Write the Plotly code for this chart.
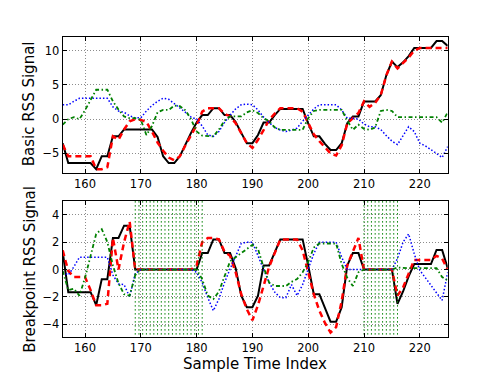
import plotly.graph_objects as go
from plotly.subplots import make_subplots

# sample index 156..225
t = list(range(156, 226))

basic_black = [-3.5, -6.4, -6.4, -6.4, -6.4, -6.4, -7.3, -5.4, -5.4, -2.5,
               -2.5, -1.5, -1.5, -1.5, -1.5, -1.5, -1.5, -2.6, -5.4, -6.4,
               -6.4, -5.4, -3.6, -2.0, -0.5, 0.6, 0.6, 1.6, 1.6, 0.6,
               0.6, -0.4, -2.0, -3.5, -3.5, -2.3, -0.5, -0.5, 0.6, 1.5,
               1.5, 1.5, 1.5, 1.5, -0.6, -2.5, -2.5, -3.6, -4.5, -4.5,
               -3.5, -0.6, 0.4, 0.4, 2.6, 2.6, 2.6, 3.5, 6.4, 8.4,
               7.6, 8.3, 9.2, 10.4, 10.4, 10.4, 10.4, 11.4, 11.4, 10.7]
basic_red = [-3.7, -5.4, -5.4, -5.4, -5.4, -5.4, -7.3, -7.3, -7.0, -2.5,
             -3.0, -1.5, -0.3, 0.0, -0.1, -0.4, -1.8, -3.4, -4.6, -5.6,
             -6.0, -5.4, -3.8, -2.3, -0.9, 1.1, 1.6, 1.6, 1.6, 0.8,
             0.4, -0.6, -2.0, -3.5, -4.2, -3.0, -1.6, -0.1, 0.8, 1.6,
             1.6, 1.6, 1.6, 1.1, -0.5, -2.2, -3.2, -4.1, -5.0, -5.3,
             -3.8, -0.6, 0.2, 0.9, 2.6, 1.8, 2.4, 3.5, 6.4, 8.4,
             7.4, 8.2, 9.0, 10.0, 10.4, 10.4, 10.4, 10.4, 10.4, 10.4]
basic_blue = [2.1, 2.1, 2.6, 3.05, 3.05, 3.05, 3.05, 3.05, 3.05, 1.8,
              1.2, 1.0, 0.5, 0.2, 0.2, 1.2, 2.0, 2.6, 3.05, 2.9,
              2.3, 1.6, 1.0, 0.3, 0.0, -1.0, -2.3, -2.5, -1.8, -0.5,
              0.6, 1.5, 2.1, 2.2, 2.1, 1.35, 0.3, -0.5, -1.2, -1.6,
              -1.8, -1.6, -1.3, -0.3, 0.6, 1.5, 2.1, 2.1, 2.1, 2.1,
              1.35, 0.15, 0.15, 0.0, -0.7, -1.1, -1.1, -1.5, -2.4, -3.2,
              -3.7, -2.3, -1.1, -1.8, -3.5, -3.9, -4.4, -5.0, -5.6, -4.0]
basic_green = [-0.8, 0.0, 0.3, 0.0, 1.3, 2.9, 4.3, 4.3, 4.3, 2.6,
               1.4, 0.4, 0.15, 0.15, -0.1, -2.3, -1.0, 1.0, 1.35, 1.35,
               2.0, 1.9, 1.3, 0.0, -1.8, -2.4, -2.5, -2.5, -1.5, -0.2,
               0.4, 0.4, 0.4, 1.0, 1.3, 0.9, 0.15, -0.3, -1.2, -1.55,
               -1.55, -1.55, -1.55, -1.55, 0.15, 1.2, 1.35, 1.35, 1.35, 1.35,
               1.35, -0.2, -1.55, -0.8, -1.4, -1.55, -1.2, 1.2, 1.35, 1.2,
               0.3, 0.3, 0.3, 0.3, 0.3, 0.3, 0.3, 0.3, -0.5, 1.0]

bp_black = [1.3, -1.65, -1.65, -1.65, -1.65, -1.65, -2.6, -0.7, -0.7, 2.3,
            2.3, 3.2, 3.2, 0.0, 0.0, 0.0, 0.0, 0.0, 0.0, 0.0,
            0.0, 0.0, 0.0, 0.0, 0.0, 1.2, 1.2, 2.2, 2.2, 1.2,
            1.2, 0.1, -1.9, -2.75, -2.75, -1.9, 0.3, 0.3, 1.2, 2.2,
            2.2, 2.2, 2.2, 2.2, 0.3, -1.8, -1.8, -2.8, -3.8, -3.8,
            -2.75, 0.3, 1.2, 1.2, 0.0, 0.0, 0.0, 0.0, 0.0, 0.0,
            -2.5, -1.6, -0.5, 0.4, 0.4, 0.4, 0.4, 1.43, 1.43, 0.1]
bp_red = [1.4, -0.1, -0.55, -0.55, -0.55, -1.5, -2.6, -2.6, -2.5, 2.3,
          0.0, 2.0, 3.5, 0.0, 0.0, 0.0, 0.0, 0.0, 0.0, 0.0,
          0.0, 0.0, 0.0, 0.0, 0.3, 2.0, 2.3, 2.3, 2.2, 1.3,
          1.0, -0.2, -1.8, -2.9, -3.7, -2.6, -1.2, 0.2, 1.2, 2.2,
          2.2, 2.2, 2.2, 1.4, -0.3, -1.8, -3.0, -3.9, -4.6, -4.2,
          -2.3, 0.3, 1.3, 2.3, 0.0, 0.0, 0.0, 0.0, 0.0, 0.0,
          -1.9, -1.3, -0.3, 0.7, 0.7, 0.7, 0.7, 1.0, 0.8, 0.0]
bp_blue = [-0.2, -0.4, 0.2, 0.9, 0.9, 0.9, 0.9, 0.9, 0.9, -0.4,
           -1.05, -1.1, -2.0, -0.3, 0.0, 0.0, 0.0, 0.0, 0.0, 0.0,
           0.0, 0.0, 0.0, 0.0, -0.2, -0.95, -2.05, -3.0, -2.15, -0.95,
           0.05, 1.0, 1.9, 2.0, 2.0, 1.0, 0.05, -0.95, -1.65, -2.05,
           -2.05, -1.1, -1.9, -1.1, 0.05, 1.15, 2.0, 2.0, 2.0, 2.0,
           0.9, 0.0, 0.0, 0.0, 0.0, 0.0, 0.0, 0.0, 0.0, 0.0,
           0.8, 2.0, 2.6, 1.15, -0.05, -0.6, -1.2, -1.7, -2.25, -0.2]
bp_green = [-0.1, -1.5, -1.4, -1.9, -0.6, 1.0, 2.6, 2.95, 2.0, 0.3,
            -1.0, -1.8, -1.9, -0.4, 0.0, 0.0, 0.0, 0.0, 0.0, 0.0,
            0.0, 0.0, 0.0, 0.0, 0.0, -0.7, -1.9, -2.15, -1.6, -0.5,
            0.6, 0.9, 1.2, 1.5, 1.8, 1.5, 0.17, -0.95, -1.2, -1.2,
            -1.2, -0.9, -0.7, -0.2, 0.55, 1.6, 1.9, 1.9, 1.9, 1.9,
            0.4, -0.6, -1.2, -0.2, 0.0, 0.0, 0.0, 0.0, 0.0, 0.0,
            0.15, 0.1, 0.1, 0.1, 0.1, 0.1, 0.1, 0.1, -0.55, -0.8]

# breakpoint markers (vertical green lines)
breakpoints = [169, 169.67, 170.33, 171, 171.67, 172.33, 173, 173.67, 174.33, 175,
               175.67, 176.33, 177, 177.67, 178.33, 179, 179.67, 180.33, 181,
               210, 210.67, 211.33, 212, 212.67, 213.33, 214, 214.67, 215.33, 216]

fig = make_subplots(rows=2, cols=1)

styles = [
    ('black', 2, 'solid'),
    ('red', 2.5, '6px,4px'),
    ('blue', 1.5, '1.5px,2px'),
    ('green', 1.8, '4px,2.5px,1.5px,2.5px'),
]

for row, series in [(1, [basic_black, basic_red, basic_blue, basic_green]),
                    (2, [bp_black, bp_red, bp_blue, bp_green])]:
    for ys, (c, w, d) in zip(series, styles):
        fig.add_trace(go.Scatter(x=t, y=ys, mode='lines',
                                 line=dict(color=c, width=w, dash=d)),
                      row=row, col=1)

bx, by = [], []
for b in breakpoints:
    bx += [b, b, None]
    by += [-10, 10, None]
fig.add_trace(go.Scatter(x=bx, y=by, mode='lines',
                         line=dict(color='green', width=1, dash='1.5px,2.5px')),
              row=2, col=1)

axis_style = dict(
    showline=True, linecolor='black', linewidth=1, mirror='ticks',
    ticks='inside', ticklen=4, tickcolor='black',
    showgrid=True, gridcolor='#8c8c8c', griddash='1px,2px', gridwidth=1,
    zeroline=False,
    tickfont=dict(family='DejaVu Sans', size=11.5, color='black'),
)

fig.update_xaxes(range=[156, 225], tickvals=[160, 170, 180, 190, 200, 210, 220],
                 domain=[0.1259, 0.899], **axis_style)
fig.update_yaxes(**axis_style)
fig.update_yaxes(range=[-7.9, 11.95], tickvals=[-5, 0, 5, 10],
                 domain=[0.539, 0.9008], row=1, col=1)
fig.update_yaxes(range=[-4.9, 5.0], tickvals=[-4, -2, 0, 2, 4],
                 domain=[0.1045, 0.4654], row=2, col=1)

lab = dict(family='DejaVu Sans', size=15, color='black')
fig.update_layout(
    width=498, height=376,
    margin=dict(l=0, r=0, t=0, b=0),
    paper_bgcolor='white', plot_bgcolor='white',
    showlegend=False,
    annotations=[
        dict(text='Basic RSS Signal', x=0.06, y=0.725, xref='paper', yref='paper',
             xanchor='center', yanchor='middle',
             textangle=-90, showarrow=False, font=lab),
        dict(text='Breakpoint RSS Signal', x=0.06, y=0.285, xref='paper', yref='paper',
             xanchor='center', yanchor='middle',
             textangle=-90, showarrow=False, font=lab),
        dict(text='Sample Time Index', x=0.5125, y=0.031, xref='paper', yref='paper',
             xanchor='center', yanchor='middle',
             showarrow=False, font=lab),
    ],
)

fig.write_html("out.html", config={'displayModeBar': False},
               post_script="document.body.style.margin='0';")
